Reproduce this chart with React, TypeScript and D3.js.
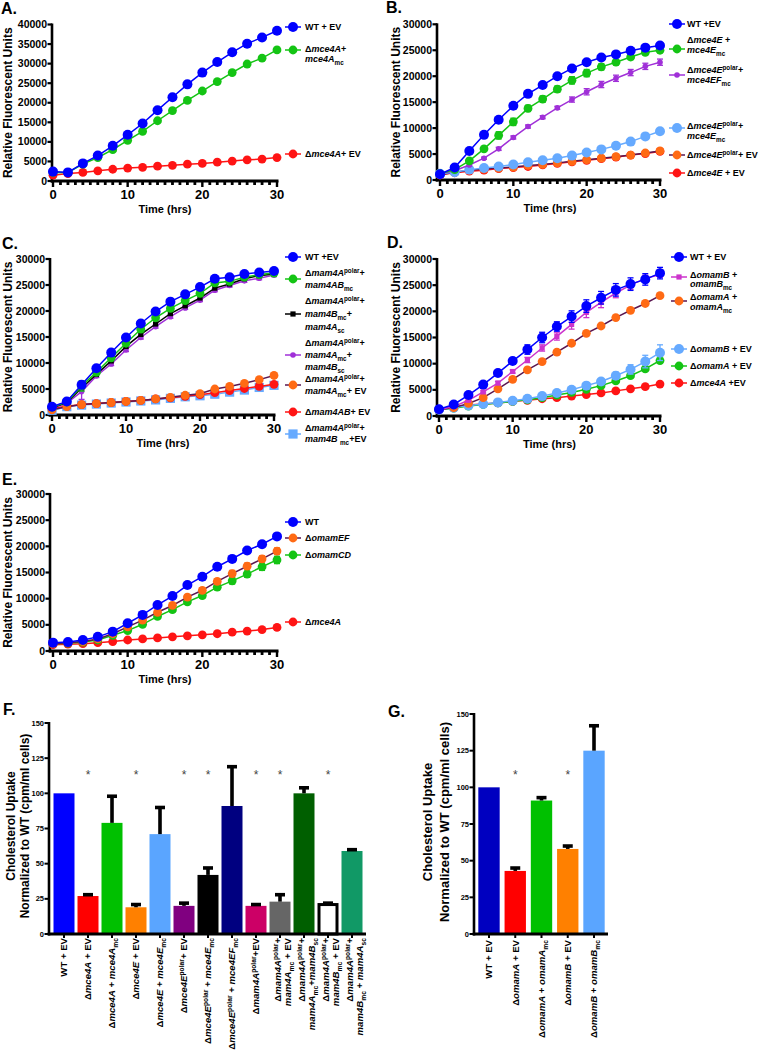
import React from "react";
import * as d3 from "d3";

const FONT = 'Arial, "Liberation Sans", Helvetica, sans-serif';

// ---------- shared ----------
const timeHrs = [0, 2, 4, 6, 8, 10, 12, 14, 16, 18, 20, 22, 24, 26, 28, 30];
const timeTicks = [0, 10, 20, 30];
const rfuTicks40 = [0, 5000, 10000, 15000, 20000, 25000, 30000, 35000, 40000];
const rfuTicks30 = [0, 5000, 10000, 15000, 20000, 25000, 30000];
const uptakeTicks = [0, 25, 50, 75, 100, 125, 150];

// ---------- Panel A ----------
const aWT = [2400, 2200, 4500, 6500, 9000, 11800, 14700, 18100, 21400, 24700, 27700, 30400, 32900, 35100, 36700, 38400];
const aComp = [2200, 2200, 4300, 6000, 8000, 10400, 12700, 15400, 18000, 20600, 23000, 25400, 27700, 29900, 31400, 33500];
const aMutEV = [1500, 1900, 2200, 2600, 3000, 3300, 3500, 3800, 4000, 4300, 4500, 4800, 5100, 5400, 5600, 6000];
const aLegend = ["WT + EV", ["Δ*mce4A*+", "*mce4A*_{mc}"], "Δ*mce4A*+ EV"];

// ---------- Panel B ----------
const bWT = [1100, 2400, 5600, 8700, 11600, 14300, 16600, 18300, 20000, 21500, 22700, 23600, 24200, 24900, 25500, 25900];
const bComp = [1200, 2000, 3700, 6000, 8600, 11200, 13800, 15600, 17500, 19200, 20600, 21800, 22700, 23700, 24600, 25000];
const bCompErr = [0, 200, 300, 400, 700, 700, 600, 600, 600, 700, 700, 600, 500, 500, 400, 400];
const bPolarEF = [1200, 1800, 2900, 4200, 6000, 8200, 10300, 12100, 13900, 15500, 17000, 18400, 19600, 20700, 21900, 22700];
const bPolarEFErr = [0, 0, 200, 200, 300, 300, 300, 300, 300, 500, 600, 600, 600, 600, 600, 600];
const bPolarE = [1200, 1500, 2000, 2300, 2600, 3000, 3400, 3800, 4200, 4700, 5300, 5900, 6600, 7400, 8400, 9400];
const bPolarEV = [1000, 1500, 1900, 2100, 2300, 2500, 2800, 3000, 3300, 3600, 3900, 4200, 4500, 4800, 5200, 5600];
const bMutEV = [1000, 1400, 1700, 1900, 2200, 2400, 2600, 2900, 3200, 3500, 3800, 4100, 4400, 4800, 5100, 5500];
const bLegend = [
  "WT +EV",
  ["Δ*mce4E* +", "*mce4E*_{mc}"],
  ["Δ*mce4E*^{polar}+", "*mce4EF*_{mc}"],
  ["Δ*mce4E*^{polar}+", "*mce4E*_{mc}"],
  "Δ*mce4E*^{polar}+ EV",
  "Δ*mce4E* + EV",
];

// ---------- Panel C ----------
const cWT = [1600, 2600, 5800, 9000, 12000, 14900, 17600, 19900, 21800, 23200, 24600, 26200, 26500, 27100, 27400, 27700];
const cAB = [1500, 2500, 5600, 8200, 11000, 13800, 16500, 18700, 20500, 22000, 23400, 25400, 25700, 26500, 27000, 27300];
const cABErr = [0, 0, 1000, 300, 300, 300, 300, 300, 300, 300, 300, 300, 300, 300, 300, 300];
const cBmcAsc = [1400, 2400, 5200, 7800, 10400, 13200, 15500, 17500, 19500, 21000, 22500, 24400, 25200, 26200, 26800, 27100];
const cAmcBsc = [1300, 2300, 4500, 7500, 9800, 12500, 14900, 17000, 18900, 20600, 22100, 24000, 24900, 25800, 26300, 26900];
const cAmcBscErr = [0, 0, 1500, 300, 300, 300, 300, 300, 300, 300, 300, 300, 300, 300, 300, 300];
const cAmcEV = [1000, 1600, 2000, 2200, 2400, 2600, 2800, 3100, 3400, 3800, 4100, 5000, 5500, 6100, 6800, 7600];
const cABEV = [1300, 1700, 2000, 2200, 2400, 2600, 2800, 3100, 3300, 3600, 3900, 4300, 4700, 5100, 5500, 5900];
const cBmcEV = [900, 1600, 1900, 2100, 2300, 2500, 2700, 2900, 3200, 3500, 3700, 4000, 4400, 4800, 5300, 5700];
const cLegend = [
  "WT +EV",
  ["Δ*mam4A*^{polar}+", "*mam4AB*_{mc}"],
  ["Δ*mam4A*^{polar}+", "*mam4B*_{mc}+", "*mam4A*_{sc}"],
  ["Δ*mam4A*^{polar}+", "*mam4A*_{mc}+", "*mam4B*_{sc}"],
  ["Δ*mam4A*^{polar}+", "*mam4A*_{mc}+ EV"],
  "Δ*mam4AB*+ EV",
  ["Δ*mam4A*^{polar}+", "*mam4B *_{mc}+EV"],
];

// ---------- Panel D ----------
const dWT = [1300, 2200, 4000, 6000, 8200, 10500, 12700, 15000, 17100, 19000, 21000, 22600, 24100, 25200, 26100, 27300];
const dWTErr = [0, 300, 300, 400, 500, 600, 900, 1000, 900, 1100, 1200, 1200, 1200, 1200, 1100, 1100];
const dBmc = [1200, 1800, 3000, 4600, 6300, 8500, 10700, 13000, 15200, 17500, 19800, 21700, 23500, 25000, 26300, 27000];
const dBmcErr = [0, 0, 200, 200, 300, 300, 500, 600, 700, 900, 1000, 1000, 900, 800, 600, 500];
const dAmc = [1200, 1600, 2400, 3500, 5200, 7000, 8800, 10400, 12200, 13900, 15800, 17200, 18800, 20200, 21500, 23000];
const dBEV = [1200, 1600, 2000, 2300, 2600, 2900, 3300, 3800, 4400, 5000, 5800, 6600, 7700, 8900, 10400, 12100];
const dBEVErr = [0, 0, 0, 0, 0, 0, 200, 200, 300, 300, 400, 500, 700, 900, 1200, 1500];
const dAEV = [1200, 1500, 1900, 2200, 2500, 2800, 3100, 3500, 4000, 4500, 5100, 5800, 6700, 7700, 9000, 10600];
const dMceEV = [1200, 1700, 2100, 2300, 2500, 2800, 3000, 3300, 3500, 3800, 4100, 4400, 4800, 5200, 5600, 6100];
const dLegend = [
  "WT + EV",
  ["Δ*omamB* +", "*omamB*_{mc}"],
  ["Δ*omamA* +", "*omamA*_{mc}"],
  "Δ*omamB* + EV",
  "Δ*omamA* + EV",
  "Δ*mce4A* +EV",
];

// ---------- Panel E ----------
const eWT = [1600, 1700, 2100, 2700, 3700, 5300, 6900, 8800, 10500, 12600, 14200, 16100, 17600, 19200, 20400, 21900];
const eEF = [1400, 1600, 1800, 2300, 3300, 4600, 5900, 7400, 8700, 10300, 11600, 13300, 14800, 16200, 17600, 19100];
const eEFErr = [0, 0, 0, 0, 0, 200, 300, 300, 400, 400, 500, 500, 600, 600, 600, 600];
const eCD = [1400, 1500, 1700, 2100, 3000, 3900, 5100, 6600, 7900, 9400, 10600, 12200, 13400, 14700, 16100, 17400];
const eCDErr = [0, 0, 0, 0, 0, 200, 300, 300, 400, 400, 500, 500, 600, 600, 700, 700];
const eMce = [1200, 1300, 1400, 1600, 1800, 2100, 2300, 2500, 2700, 2900, 3100, 3300, 3600, 3800, 4100, 4500];
const eLegend = ["WT", "Δ*omamEF*", "Δ*omamCD*", "Δ*mce4A*"];

// ---------- Panel F ----------
const fLabels = [
  "WT + EV",
  "Δ*mce4A* + EV",
  "Δ*mce4A* + *mce4A*_{mc}",
  "Δ*mce4E* + EV",
  "Δ*mce4E* + *mce4E*_{mc}",
  "Δ*mce4E*^{polar}+ EV",
  "Δ*mce4E*^{polar} + *mce4E*_{mc}",
  "Δ*mce4E*^{polar} + *mce4EF*_{mc}",
  "Δ*mam4A*^{polar}+EV",
  ["Δ*mam4A*^{polar}+", "*mam4A*_{mc} + EV"],
  ["Δ*mam4A*^{polar}+", "*mam4A*_{mc}+*mam4B*_{sc}"],
  ["Δ*mam4A*^{polar}+", "*mam4B*_{mc} + EV"],
  ["Δ*mam4A*^{polar}+", "*mam4B*_{mc} + *mam4A*_{sc}"],
];
const fValues = [100, 27, 79, 19, 71, 20, 42, 91, 20, 23, 100, 22, 59];
const fErrors = [0, 2, 20, 3, 20, 3, 6, 29, 2, 6, 5, 1, 2];
const fSignif = [false, true, false, true, false, true, true, false, true, true, false, true, false];

// ---------- Panel G ----------
const gLabels = [
  "WT + EV",
  "Δ*omamA* + EV",
  "Δ*omamA* + *omamA*_{mc}",
  "Δ*omamB* + EV",
  "Δ*omamB* + *omamB*_{mc}",
];
const gValues = [100, 43, 91, 58, 125];
const gErrors = [0, 3, 3, 3, 18];
const gSignif = [false, true, false, true, false];

// ---------- styles ----------
const COL = {
  blue: "#0000ff",
  green: "#14c414",
  red: "#ff1414",
  orange: "#ff6a14",
  lblue: "#66aaff",
  purple: "#a030d8",
  black: "#000000",
  magenta: "#cc33cc",
  plum: "#5a1650",
};
const fColors = ["#0000ff", "#ff0000", "#00c000", "#ff8000", "#5aa5ff", "#800080", "#000000", "#000080", "#cc0066", "#666666", "#005f00", "#ffffff", "#119966"];
const gColors = ["#0000c0", "#ff0000", "#00c000", "#ff8000", "#5aa5ff"];

// ---------- rich text ----------
function parseRich(s) {
  const segs = [];
  let it = false;
  let buf = "";
  let i = 0;
  const push = () => {
    if (buf) {
      segs.push({ t: buf, it, mode: "n" });
      buf = "";
    }
  };
  while (i < s.length) {
    const c = s[i];
    if (c === "*") {
      push();
      it = !it;
      i++;
      continue;
    }
    if ((c === "_" || c === "^") && s[i + 1] === "{") {
      push();
      const end = s.indexOf("}", i);
      segs.push({ t: s.slice(i + 2, end), it, mode: c === "_" ? "sub" : "sup" });
      i = end + 1;
      continue;
    }
    buf += c;
    i++;
  }
  push();
  return segs;
}

function richSpans(s, fs) {
  const segs = parseRich(s);
  let cur = 0;
  return segs.map((sg, k) => {
    const target = sg.mode === "sub" ? fs * 0.3 : sg.mode === "sup" ? -fs * 0.38 : 0;
    const dy = target - cur;
    cur = target;
    return (
      <tspan key={k} dy={dy} fontStyle={sg.it ? "italic" : "normal"} fontSize={sg.mode === "n" ? fs : fs * 0.7}>
        {sg.t}
      </tspan>
    );
  });
}

// ---------- markers ----------
function Marker({ s, cx, cy }) {
  if (s.shape === "square") {
    return <rect x={cx - s.r} y={cy - s.r} width={s.r * 2} height={s.r * 2} fill={s.fill} />;
  }
  return <circle cx={cx} cy={cy} r={s.r} fill={s.fill} />;
}

// ---------- line panel ----------
function LinePanel({ p }) {
  const x = d3.scaleLinear().domain([0, 30]).range([p.x0, p.x1]);
  const y = d3.scaleLinear().domain([0, p.yMax]).range([p.y0, p.yTop]);
  const line = d3
    .line()
    .x((_, i) => x(timeHrs[i]))
    .y((d) => y(d));
  const minor = d3.range(0, 31, 1);
  const lfs = 9;
  return (
    <g>
      <text x={p.labelX} y={p.labelY} fontSize={16} fontWeight="bold">
        {p.label}
      </text>
      {/* axes */}
      <line x1={p.axisX} x2={p.axisX} y1={p.yTop - 1} y2={p.y0 + 1.5} stroke="#000" strokeWidth={2.6} />
      <line x1={p.axisX - 1.3} x2={x(30) + 1.5} y1={p.y0} y2={p.y0} stroke="#000" strokeWidth={3} />
      {p.yTicks.map((t) => (
        <g key={t}>
          <line x1={p.axisX - 4.5} x2={p.axisX} y1={y(t)} y2={y(t)} stroke="#000" strokeWidth={2.2} />
          <text x={p.axisX - 5} y={y(t) + 3.6} fontSize={10.5} fontWeight="bold" textAnchor="end">
            {t}
          </text>
        </g>
      ))}
      {minor.map((t) => (
        <line key={t} x1={x(t)} x2={x(t)} y1={p.y0} y2={p.y0 + (t % 10 === 0 ? 6 : 4)} stroke="#000" strokeWidth={t % 10 === 0 ? 2.4 : 2.8} />
      ))}
      {timeTicks.map((t) => (
        <text key={t} x={x(t)} y={p.y0 + 18} fontSize={13} fontWeight="bold" textAnchor="middle">
          {t}
        </text>
      ))}
      <text x={(p.x0 + p.x1) / 2} y={p.y0 + 32} fontSize={11} fontWeight="bold" textAnchor="middle">
        Time (hrs)
      </text>
      <text
        transform={`translate(${p.titleX},${(p.y0 + p.yTop) / 2}) rotate(-90)`}
        fontSize={12}
        fontWeight="bold"
        textAnchor="middle"
      >
        Relative Fluorescent Units
      </text>
      {/* series */}
      {[...p.series].reverse().map((s, k) => (
        <g key={k}>
          <path d={line(s.v)} fill="none" stroke={s.stroke} strokeWidth={1.5} />
          {s.e &&
            s.v.map((v, i) =>
              s.e[i] > 0 ? (
                <g key={i} stroke={s.fill} strokeWidth={1.3}>
                  <line x1={x(timeHrs[i])} x2={x(timeHrs[i])} y1={y(v - s.e[i])} y2={y(v + s.e[i])} />
                  <line x1={x(timeHrs[i]) - 3} x2={x(timeHrs[i]) + 3} y1={y(v + s.e[i])} y2={y(v + s.e[i])} />
                  <line x1={x(timeHrs[i]) - 3} x2={x(timeHrs[i]) + 3} y1={y(v - s.e[i])} y2={y(v - s.e[i])} />
                </g>
              ) : null
            )}
          {s.v.map((v, i) => (
            <Marker key={i} s={s} cx={x(timeHrs[i])} cy={y(v)} />
          ))}
        </g>
      ))}
      {/* legend */}
      {p.series.map((s, k) => {
        const pos = p.legendPos[k];
        const lines = Array.isArray(s.label) ? s.label : [s.label];
        return (
          <g key={k}>
            <line x1={p.lmx - 8} x2={p.lmx + 8} y1={pos.m} y2={pos.m} stroke={s.stroke} strokeWidth={1.5} />
            <Marker s={s} cx={p.lmx} cy={pos.m} />
            {lines.map((ln, j) => (
              <text key={j} x={p.ltx} y={pos.l[j] + lfs * 0.36} fontSize={lfs} fontWeight="bold" style={{ whiteSpace: "pre" }}>
                {richSpans(ln, lfs)}
              </text>
            ))}
          </g>
        );
      })}
    </g>
  );
}

const mk = (v, e, fill, stroke, shape, r, label) => ({ v, e, fill, stroke, shape, r, label });

const panels = [
  {
    label: "A.", labelX: 1, labelY: 14, titleX: 12,
    x0: 53, x1: 277, axisX: 52, y0: 181, yTop: 24.5, yMax: 40000, yTicks: rfuTicks40,
    lmx: 293, ltx: 305,
    legendPos: [{ m: 27, l: [27] }, { m: 50, l: [49, 59] }, { m: 154, l: [154] }],
    series: [
      mk(aWT, null, COL.blue, COL.blue, "circle", 5, aLegend[0]),
      mk(aComp, null, COL.green, COL.green, "circle", 4.4, aLegend[1]),
      mk(aMutEV, null, COL.red, COL.red, "circle", 4.4, aLegend[2]),
    ],
  },
  {
    label: "B.", labelX: 386, labelY: 13, titleX: 400,
    x0: 440, x1: 660, axisX: 437, y0: 180, yTop: 24.3, yMax: 30000, yTicks: rfuTicks30,
    lmx: 677, ltx: 687,
    legendPos: [
      { m: 24, l: [24] }, { m: 49, l: [40, 50] }, { m: 75, l: [70, 80] },
      { m: 128, l: [126, 136] }, { m: 155, l: [155] }, { m: 173, l: [173] },
    ],
    series: [
      mk(bWT, null, COL.blue, COL.blue, "circle", 5, bLegend[0]),
      mk(bComp, bCompErr, COL.green, COL.green, "circle", 4.4, bLegend[1]),
      mk(bPolarEF, bPolarEFErr, COL.purple, COL.purple, "circle", 2.8, bLegend[2]),
      mk(bPolarE, null, COL.lblue, COL.lblue, "circle", 5, bLegend[3]),
      mk(bPolarEV, null, COL.orange, COL.plum, "circle", 4.4, bLegend[4]),
      mk(bMutEV, null, COL.red, COL.red, "circle", 4.4, bLegend[5]),
    ],
  },
  {
    label: "C.", labelX: 2, labelY: 249, titleX: 12,
    x0: 52, x1: 274, axisX: 50, y0: 415, yTop: 259, yMax: 30000, yTicks: rfuTicks30,
    lmx: 293, ltx: 305,
    legendPos: [
      { m: 257, l: [257] }, { m: 279, l: [273, 285] }, { m: 314, l: [301, 314, 327] },
      { m: 355, l: [343, 355, 367] }, { m: 385, l: [379, 391] }, { m: 412, l: [412] }, { m: 434, l: [428, 439] },
    ],
    series: [
      mk(cWT, null, COL.blue, COL.blue, "circle", 5, cLegend[0]),
      mk(cAB, cABErr, COL.green, COL.green, "circle", 4.4, cLegend[1]),
      mk(cBmcAsc, null, COL.black, COL.black, "square", 2.6, cLegend[2]),
      mk(cAmcBsc, cAmcBscErr, COL.purple, COL.purple, "circle", 2.8, cLegend[3]),
      mk(cAmcEV, null, COL.orange, COL.plum, "circle", 4.4, cLegend[4]),
      mk(cABEV, null, COL.red, COL.red, "circle", 4.4, cLegend[5]),
      mk(cBmcEV, null, COL.lblue, COL.lblue, "square", 4.6, cLegend[6]),
    ],
  },
  {
    label: "D.", labelX: 387, labelY: 248, titleX: 400,
    x0: 439, x1: 660, axisX: 437, y0: 416, yTop: 259, yMax: 30000, yTicks: rfuTicks30,
    lmx: 679, ltx: 690,
    legendPos: [
      { m: 257, l: [257] }, { m: 277, l: [275, 284] }, { m: 301, l: [297, 307] },
      { m: 349, l: [349] }, { m: 366, l: [366] }, { m: 383, l: [383] },
    ],
    series: [
      mk(dWT, dWTErr, COL.blue, COL.blue, "circle", 5, dLegend[0]),
      mk(dBmc, dBmcErr, COL.magenta, COL.magenta, "square", 2.6, dLegend[1]),
      mk(dAmc, null, COL.orange, COL.plum, "circle", 4.4, dLegend[2]),
      mk(dBEV, dBEVErr, COL.lblue, COL.lblue, "circle", 5, dLegend[3]),
      mk(dAEV, null, COL.green, COL.green, "circle", 4.4, dLegend[4]),
      mk(dMceEV, null, COL.red, COL.red, "circle", 4.4, dLegend[5]),
    ],
  },
  {
    label: "E.", labelX: 2, labelY: 485, titleX: 12,
    x0: 53, x1: 277, axisX: 50, y0: 651, yTop: 494, yMax: 30000, yTicks: rfuTicks30,
    lmx: 293, ltx: 305,
    legendPos: [{ m: 522, l: [522] }, { m: 538, l: [538] }, { m: 555, l: [555] }, { m: 622, l: [622] }],
    series: [
      mk(eWT, null, COL.blue, COL.blue, "circle", 5, eLegend[0]),
      mk(eEF, eEFErr, COL.orange, COL.plum, "circle", 4.4, eLegend[1]),
      mk(eCD, eCDErr, COL.green, COL.green, "circle", 4.4, eLegend[2]),
      mk(eMce, null, COL.red, COL.red, "circle", 4.4, eLegend[3]),
    ],
  },
];

// ---------- bar panel ----------
function BarPanel({ p }) {
  const n = p.values.length;
  const x = d3
    .scaleBand()
    .domain(d3.range(n).map(String))
    .range(p.xr)
    .paddingInner(p.padIn)
    .paddingOuter(p.padOut);
  const y = d3.scaleLinear().domain([0, 150]).range([p.y0, p.yTop]);
  const bw = x.bandwidth();
  const lfs = 9.6;
  return (
    <g>
      <text x={p.labelX} y={p.labelY} fontSize={16} fontWeight="bold">
        {p.label}
      </text>
      {/* bars */}
      {p.values.map((v, i) => {
        const x0 = x(String(i));
        const white = p.colors[i] === "#ffffff";
        return (
          <rect
            key={i}
            x={white ? x0 + 1.5 : x0}
            y={white ? y(v) + 1.5 : y(v)}
            width={white ? bw - 3 : bw}
            height={white ? y(0) - y(v) - 1.5 : y(0) - y(v)}
            fill={p.colors[i]}
            stroke={white ? "#000" : "none"}
            strokeWidth={white ? 3 : 0}
          />
        );
      })}
      {/* error bars */}
      {p.values.map((v, i) => {
        const e = p.errors[i];
        if (!e) return null;
        const cx = x(String(i)) + bw / 2;
        return (
          <g key={i} stroke="#000" strokeWidth={3.6}>
            <line x1={cx} x2={cx} y1={y(v)} y2={y(v + e) + 1.5} />
            <line x1={cx - 5} x2={cx + 5} y1={y(v + e) + 1.5} y2={y(v + e) + 1.5} />
          </g>
        );
      })}
      {/* axes */}
      <line x1={p.axisX} x2={p.axisX} y1={p.yTop - 1} y2={p.y0 + 1.5} stroke="#000" strokeWidth={2.6} />
      <line x1={p.axisX - 1.3} x2={p.xEnd} y1={p.y0} y2={p.y0} stroke="#000" strokeWidth={3} />
      {uptakeTicks.map((t) => (
        <g key={t}>
          <line x1={p.axisX - 4.5} x2={p.axisX} y1={y(t)} y2={y(t)} stroke="#000" strokeWidth={2} />
          <text x={p.axisX - 5} y={y(t) + 2.6} fontSize={7.5} fontWeight="bold" textAnchor="end">
            {t}
          </text>
        </g>
      ))}
      {p.values.map((_, i) => (
        <line key={i} x1={x(String(i)) + bw / 2} x2={x(String(i)) + bw / 2} y1={p.y0} y2={p.y0 + 4} stroke="#000" strokeWidth={2} />
      ))}
      {/* stars */}
      {p.signif.map((s, i) =>
        s ? (
          <text key={i} x={x(String(i)) + bw / 2} y={p.starY + 6.5} fontSize={12} textAnchor="middle" fill="#444">
            *
          </text>
        ) : null
      )}
      {/* y title */}
      <text transform={`translate(${p.titleX1},${p.titleY}) rotate(-90)`} fontSize={p.titleFs} fontWeight="bold" textAnchor="middle">
        Cholesterol Uptake
      </text>
      <text transform={`translate(${p.titleX2},${p.titleY}) rotate(-90)`} fontSize={p.titleFs} fontWeight="bold" textAnchor="middle">
        Normalized to WT (cpm/ml cells)
      </text>
      {/* x labels */}
      {p.labels.map((lab, i) => {
        const cx = x(String(i)) + bw / 2;
        const lines = Array.isArray(lab) ? lab : [lab];
        const offs = lines.length === 1 ? [0] : [-2, 8];
        return lines.map((ln, j) => (
          <text
            key={i + "-" + j}
            transform={`translate(${cx + offs[j] + lfs * 0.35},${p.labelTop}) rotate(-90)`}
            fontSize={lfs}
            fontWeight="bold"
            textAnchor="end"
            style={{ whiteSpace: "pre" }}
          >
            {richSpans(ln, lfs)}
          </text>
        ));
      })}
    </g>
  );
}

const panelF = {
  label: "F.", labelX: 3, labelY: 715,
  values: fValues, errors: fErrors, signif: fSignif, labels: fLabels, colors: fColors,
  xr: [52, 364], padIn: 0.125, padOut: 0.0625, xEnd: 366,
  axisX: 49, y0: 934, yTop: 723, starY: 772,
  titleX1: 15, titleX2: 29, titleY: 826, titleFs: 12, labelTop: 938,
};
const panelG = {
  label: "G.", labelX: 388, labelY: 717,
  values: gValues, errors: gErrors, signif: gSignif, labels: gLabels, colors: gColors,
  xr: [477, 606], padIn: 0.186, padOut: 0.05, xEnd: 608,
  axisX: 474, y0: 934, yTop: 714, starY: 772,
  titleX1: 432, titleX2: 449, titleY: 822, titleFs: 13, labelTop: 940,
};

export default function App() {
  return (
    <svg
      width={760}
      height={1050}
      viewBox="0 0 760 1050"
      style={{ position: "absolute", left: 0, top: 0, display: "block" }}
      fontFamily={FONT}
    >
      <rect width={760} height={1050} fill="#fff" />
      {panels.map((p) => (
        <LinePanel key={p.label} p={p} />
      ))}
      <BarPanel p={panelF} />
      <BarPanel p={panelG} />
    </svg>
  );
}
